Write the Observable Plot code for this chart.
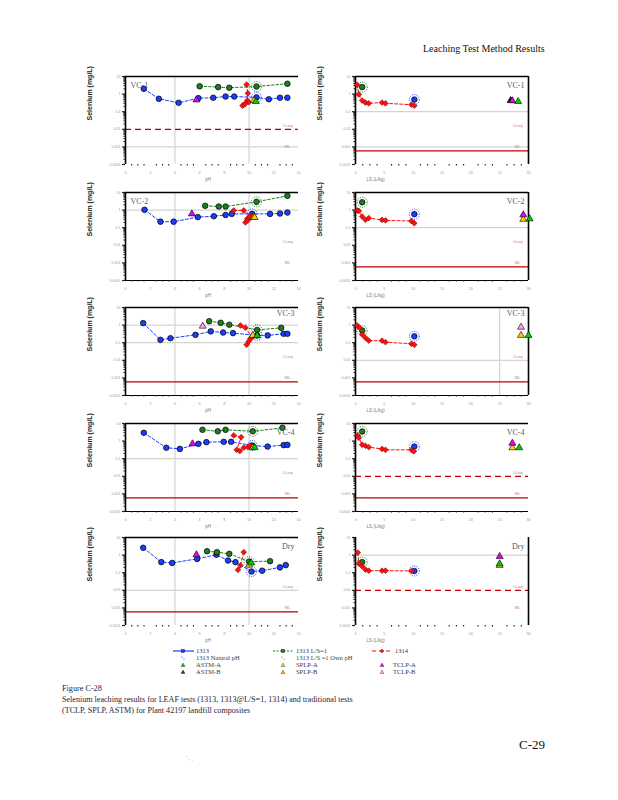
<!DOCTYPE html>
<html><head><meta charset="utf-8">
<script src="https://cdn.jsdelivr.net/npm/d3@7"></script>
<script src="https://cdn.jsdelivr.net/npm/@observablehq/plot@0.6"></script>
<style>
body{margin:0;background:#fff;}
#page{position:relative;width:618px;height:800px;background:#fff;overflow:hidden;font-family:"Liberation Serif",serif;color:#222;}
.abs{position:absolute;white-space:nowrap;}
.pl{position:absolute;}
</style></head><body><div id="page"></div>
<script>
// ---------- data (Se, mg/L) ----------
const panelNames = ["VC-1", "VC-2", "VC-3", "VC-4", "Dry"];
const phTicks = [0, 2, 4, 6, 8, 10, 12, 14];
const lsTicks = [0, 5, 10, 15, 20, 25, 30];
const yDecades = [1e-4, 1e-3, 1e-2, 0.1, 1, 10];

// pH panels: [pH, Se]
const VC1_1313 = [[1.48,2.0],[2.7,0.54],[4.3,0.32],[5.9,0.59],[7.1,0.62],[8.1,0.73],[8.8,0.73],[10.6,0.65],[11.6,0.51],[12.5,0.62],[13.1,0.62]];
const VC1_LS1 = [[6.0,2.8],[7.5,2.5],[8.4,2.3],[10.6,2.7],[13.1,3.9]];
const VC1_1314 = [[9.8,3.5],[9.9,1.1],[9.85,0.43],[9.57,0.25],[9.47,0.22],[9.7,0.28],[9.98,0.35]];
const VC1_nat = [[10.6,0.65]];
const VC1_own = [[10.6,2.7]];
const VC1_trad = [[5.74,0.47,"TCLP-A"],[10.4,0.43,"SPLP-A"],[10.55,0.38,"ASTM-A"]];

const VC2_1313 = [[1.54,1.04],[2.83,0.22],[3.9,0.22],[5.85,0.40],[7.15,0.45],[8.1,0.53],[8.6,0.61],[10.25,0.61],[11.7,0.61],[12.5,0.64],[13.1,0.73]];
const VC2_LS1 = [[6.45,1.75],[7.55,1.6],[8.1,1.6],[10.6,2.95],[13.1,6.5]];
const VC2_1314 = [[8.76,0.95],[9.57,0.95],[10.1,0.49],[9.85,0.32],[9.7,0.2],[9.9,0.26],[10.06,0.40]];
const VC2_nat = [[10.25,0.61]];
const VC2_own = [[10.6,2.95]];
const VC2_trad = [[5.37,0.61,"TCLP-A"],[10.35,0.40,"SPLP-B"],[10.45,0.38,"SPLP-A"]];

const VC3_1313 = [[1.43,1.3],[2.83,0.145],[3.64,0.18],[5.66,0.28],[6.9,0.44],[7.9,0.38],[8.7,0.35],[10.65,0.26],[11.5,0.26],[12.8,0.32],[13.1,0.32]];
const VC3_LS1 = [[6.77,1.66],[7.7,1.35],[8.4,1.05],[10.65,0.53],[12.6,0.7]];
const VC3_1314 = [[9.3,0.95],[9.7,0.71],[10.25,0.2],[10.1,0.17],[9.98,0.12],[9.8,0.076]];
const VC3_nat = [[10.65,0.26]];
const VC3_own = [[10.65,0.53]];
const VC3_trad = [[6.25,0.87,"TCLP-B"],[10.3,0.26,"SPLP-A"],[10.65,0.25,"ASTM-A"]];

const VC4_1313 = [[1.48,2.96],[3.3,0.42],[4.4,0.36],[5.9,0.7],[6.55,0.87],[7.95,0.91],[8.55,0.91],[10.25,0.56],[11.5,0.49],[12.8,0.59],[13.1,0.61]];
const VC4_LS1 = [[6.23,4.4],[7.47,3.6],[8.1,4.4],[10.3,3.6],[12.7,5.7]];
const VC4_1314 = [[8.76,2.1],[9.36,1.66],[9.0,0.32],[9.25,0.27],[9.57,0.42],[9.9,0.45],[10.06,0.56]];
const VC4_nat = [[10.25,0.56]];
const VC4_own = [[10.3,3.6]];
const VC4_trad = [[5.42,0.7,"TCLP-A"],[10.3,0.42,"SPLP-A"],[10.45,0.44,"ASTM-A"]];

const Dry_1313 = [[1.43,2.6],[2.9,0.4],[3.78,0.36],[5.8,0.61],[7.36,1.05],[8.3,0.49],[8.9,0.4],[10.2,0.117],[11.06,0.13],[12.5,0.2],[12.97,0.27]];
const Dry_LS1 = [[6.6,1.66],[7.4,1.46],[8.4,1.18],[10.0,0.43],[11.7,0.45]];
const Dry_1314 = [[9.57,1.46],[9.3,0.26],[9.1,0.145]];
const Dry_nat = [[10.2,0.117]];
const Dry_own = [[10.0,0.43]];
const Dry_trad = [[5.74,1.05,"TCLP-A"],[10.0,0.27,"SPLP-A"],[10.17,0.36,"ASTM-A"]];

// L/S panels: [L/S (L/kg), Se]
const VC1_ls1314 = [[0.29,3.4],[0.58,0.95],[1.16,0.43],[1.73,0.33],[2.3,0.30],[4.6,0.33],[5.2,0.30],[9.7,0.25],[10.2,0.22]];
const VC1_ls1313 = [[10.2,0.49]];
const VC1_lsLS1 = [[1.16,2.5]];
const VC1_lsTrad = [[26.9,0.43,"ASTM-B"],[27.2,0.42,"TCLP-A"],[28.2,0.38,"ASTM-A"]];

const VC2_ls1314 = [[0.3,0.95],[0.58,0.9],[1.16,0.43],[1.73,0.28],[2.3,0.35],[4.6,0.28],[5.2,0.26],[9.7,0.24],[10.2,0.18]];
const VC2_ls1313 = [[10.2,0.59]];
const VC2_lsLS1 = [[1.16,2.8]];
const VC2_lsTrad = [[29.1,0.30,"SPLP-A"],[29.1,0.54,"TCLP-A"],[30.2,0.32,"ASTM-A"]];

const VC3_ls1314 = [[0.29,0.95],[0.7,0.71],[1.16,0.29],[1.73,0.19],[2.3,0.13],[4.6,0.13],[5.2,0.107],[9.7,0.087],[10.2,0.076]];
const VC3_ls1313 = [[10.2,0.23]];
const VC3_lsLS1 = [[1.16,0.49]];
const VC3_lsTrad = [[28.7,0.76,"TCLP-B"],[28.7,0.26,"SPLP-A"],[30.0,0.26,"ASTM-A"]];

const VC4_ls1314 = [[0.4,2.1],[0.58,1.55],[1.16,0.62],[1.73,0.54],[2.3,0.45],[4.6,0.36],[5.2,0.32],[9.7,0.32],[10.1,0.26]];
const VC4_ls1313 = [[10.2,0.49]];
const VC4_lsLS1 = [[1.16,3.5]];
const VC4_lsTrad = [[27.2,0.42,"SPLP-A"],[27.2,0.76,"TCLP-A"],[28.4,0.42,"ASTM-A"]];

const Dry_ls1314 = [[0.4,1.4],[0.58,0.33],[1.16,0.23],[1.73,0.15],[2.3,0.13],[4.6,0.13],[5.2,0.13],[9.7,0.126]];
const Dry_ls1313 = [[10.2,0.126]];
const Dry_lsLS1 = [[1.16,0.4]];
const Dry_lsTrad = [[25.0,0.26,"SPLP-A"],[25.0,0.83,"TCLP-A"],[25.0,0.32,"ASTM-A"]];

// reference lines per panel (Se, mg/L)
const leftGrayH = [[1e-3],[1],[1,0.1],[0.1],[0.01]];
const rightGrayH = [[0.1,1e-3],[0.1],[0.01],[],[1]];
const leftRed = [[[0.01,"dash"]],[],[[6e-4,"solid"]],[[6e-4,"solid"]],[[6e-4,"solid"]]];
const rightRed = [[[6e-4,"solid"]],[[6e-4,"solid"]],[[6e-4,"solid"]],[[0.01,"dash"],[6e-4,"solid"]],[[0.01,"dash"]]];
const leftGrayV = [4, 10];
const rightGrayV = [[],[],[25],[],[]];
const lloqLabelY = 0.016, mlLabelY = 0.001;

// ---------- styles ----------
const tradColor = {"ASTM-A":"#00d000","ASTM-B":"#111111","SPLP-A":"#ffd000","SPLP-B":"#ffb000","TCLP-A":"#ee00ee","TCLP-B":"#ffa0f0"};
const BLUE = "#1c3cff", GREEN = "#1e7d1e", RED = "#ff1010";
const tops = [76, 192, 307, 423, 537];
const FW = 173, FH = 88, ML = 40, MR = 12, MT = 10, MB = 26;
const leftFrameX = 125, rightFrameX = 355;

const leftSets = [
  [VC1_1313,VC1_LS1,VC1_1314,VC1_nat,VC1_own,VC1_trad],
  [VC2_1313,VC2_LS1,VC2_1314,VC2_nat,VC2_own,VC2_trad],
  [VC3_1313,VC3_LS1,VC3_1314,VC3_nat,VC3_own,VC3_trad],
  [VC4_1313,VC4_LS1,VC4_1314,VC4_nat,VC4_own,VC4_trad],
  [Dry_1313,Dry_LS1,Dry_1314,Dry_nat,Dry_own,Dry_trad]];
const rightSets = [
  [VC1_ls1314,VC1_ls1313,VC1_lsLS1,VC1_lsTrad],
  [VC2_ls1314,VC2_ls1313,VC2_lsLS1,VC2_lsTrad],
  [VC3_ls1314,VC3_ls1313,VC3_lsLS1,VC3_lsTrad],
  [VC4_ls1314,VC4_ls1313,VC4_lsLS1,VC4_lsTrad],
  [Dry_ls1314,Dry_ls1313,Dry_lsLS1,Dry_lsTrad]];

const page = document.getElementById("page");
function place(el, left, top){ el.classList.add("pl"); el.style.left = left+"px"; el.style.top = top+"px"; page.appendChild(el); }

const minorY = [];
for (const d of [1e-4,1e-3,1e-2,0.1,1]) for (let k=2;k<=9;k++) minorY.push(d*k);
const fmtY = d => d >= 1 ? String(d) : String(+d.toPrecision(1));

function frameMarks(xDom, opts){
  const [x0,x1] = xDom;
  const m = [
    Plot.ruleX([x0], {stroke:"#000", strokeWidth:1.6}),
    Plot.axisY({ticks: yDecades, tickSize: 3, tickFormat: () => "", label: null, strokeWidth:1.2}),
    Plot.axisY({ticks: minorY, tickSize: 1.6, tickFormat: () => "", label: null, strokeWidth:1}),
    Plot.text(yDecades, {y: d => d, frameAnchor: "left", dx: -5, text: fmtY, textAnchor: "end", fontSize: 3.6, fill: "#9a9a9a"}),
  ];
  if (opts.top) m.push(Plot.ruleY([10], {stroke:"#000", strokeWidth:1.4}));
  if (opts.bottom) m.push(Plot.ruleY([1e-4], {stroke:"#000", strokeWidth:1.2}));
  if (opts.right) m.push(Plot.ruleX([x1], {stroke:"#000", strokeWidth:1.6}));
  return m;
}

function leftPanel(i){
  const [s1313, sLS1, s1314, nat, own, trad] = leftSets[i];
  const minorX = d3.range(0, 14.01, 0.5).filter(v => v % 2 !== 0);
  const labelRight = i >= 2;
  return Plot.plot({
    width: ML+FW+MR, height: MT+FH+MB,
    marginLeft: ML, marginRight: MR, marginTop: MT, marginBottom: MB,
    x: {type:"linear", domain:[0,14], axis:null},
    y: {type:"log", domain:[1e-4,10], axis:null},
    style: {background:"transparent", overflow:"visible", fontFamily:"Liberation Sans"},
    marks: [
      Plot.ruleX(leftGrayV, {stroke:"#d4d4d4", strokeWidth:1.2}),
      Plot.ruleY(leftGrayH[i], {stroke:"#d4d4d4", strokeWidth:1.2}),
      ...leftRed[i].map(([v,t]) => Plot.ruleY([v], {stroke:"#b80000", strokeWidth:1.2, strokeDasharray: t==="dash" ? "6,4" : null})),
      Plot.text(["LLoq"], {y: () => lloqLabelY, frameAnchor:"right", dx:-6, textAnchor:"end", fontSize:4.2, fill:"#e0708a"}),
      Plot.text(["ML"], {y: () => mlLabelY, frameAnchor:"right", dx:-8, textAnchor:"end", fontSize:4.2, fill:"#e0708a"}),
      ...frameMarks([0,14], {top:true, bottom: i>=1 && i<=3, right:false}),
      Plot.axisX({ticks: minorX, tickSize: 1.6, tickFormat: () => "", label: null, strokeWidth:1.1}),
      Plot.text(phTicks, {x: d => d, frameAnchor:"bottom", dy: 9, fontSize: 3.8, fill:"#a0a0a0", text: d => String(d)}),
      Plot.text(["pH"], {frameAnchor:"bottom", dy: 16, dx: -4, fontSize: 4.5, fill:"#777"}),
      Plot.text(["Selenium (mg/L)"], {frameAnchor:"left", rotate:-90, dx:-36, fontSize:7, fontWeight:"bold", fill:"#222", fontFamily:"Liberation Sans"}),
      Plot.line(s1313, {x: d=>d[0], y: d=>d[1], stroke: BLUE, strokeWidth:1, strokeDasharray:"3,2"}),
      Plot.line(sLS1, {x: d=>d[0], y: d=>d[1], stroke: GREEN, strokeWidth:1, strokeDasharray:"2.5,2"}),
      Plot.line(s1314, {x: d=>d[0], y: d=>d[1], stroke: RED, strokeWidth:1, strokeDasharray:"3,2"}),
      Plot.dot(nat, {x: d=>d[0], y: d=>d[1], r: 5, stroke: BLUE, strokeWidth:1, strokeDasharray:"1,1.3", fill:"none"}),
      Plot.dot(own, {x: d=>d[0], y: d=>d[1], r: 5, stroke: GREEN, strokeWidth:1, strokeDasharray:"1,1.3", fill:"none"}),
      Plot.dot(s1313, {x: d=>d[0], y: d=>d[1], r: 2.8, symbol:"circle", fill: BLUE, stroke:"#000", strokeWidth:0.7}),
      Plot.dot(sLS1, {x: d=>d[0], y: d=>d[1], r: 2.8, symbol:"circle", fill: GREEN, stroke:"#000", strokeWidth:0.7}),
      Plot.dot(s1314, {x: d=>d[0], y: d=>d[1], r: 2.6, symbol:"diamond2", fill: RED, stroke:"#700", strokeWidth:0.5}),
      Plot.dot(trad, {x: d=>d[0], y: d=>d[1], r: 2.6, symbol:"triangle", fill: d=>tradColor[d[2]], stroke:"#000", strokeWidth:0.6}),
      Plot.text([panelNames[i]], {frameAnchor: labelRight ? "top-right" : "top-left", dx: labelRight ? -4 : 5, dy: i===2 ? 3 : 6, fontSize: 8, fill:"#4c5c70", fontFamily:"Liberation Serif", textAnchor: labelRight ? "end" : "start"})
    ]
  });
}

function rightPanel(i){
  const [s1314, s1313, sLS1, trad] = rightSets[i];
  const minorX = d3.range(0, 30.01, 1.25).filter(v => v % 5 !== 0);
  return Plot.plot({
    width: ML+FW+MR, height: MT+FH+MB,
    marginLeft: ML, marginRight: MR, marginTop: MT, marginBottom: MB,
    x: {type:"linear", domain:[0,30], axis:null, clamp:false},
    y: {type:"log", domain:[1e-4,10], axis:null},
    style: {background:"transparent", overflow:"visible", fontFamily:"Liberation Sans"},
    marks: [
      Plot.ruleX(rightGrayV[i], {stroke:"#d4d4d4", strokeWidth:1.2}),
      Plot.ruleY(rightGrayH[i], {stroke:"#d4d4d4", strokeWidth:1.2}),
      ...rightRed[i].map(([v,t]) => Plot.ruleY([v], {stroke:"#c00000", strokeWidth:1.2, strokeDasharray: t==="dash" ? "6,4" : null})),
      Plot.text(["LLoq"], {y: () => lloqLabelY, frameAnchor:"right", dx:-6, textAnchor:"end", fontSize:4.2, fill:"#e0708a"}),
      Plot.text(["ML"], {y: () => mlLabelY, frameAnchor:"right", dx:-8, textAnchor:"end", fontSize:4.2, fill:"#e0708a"}),
      ...frameMarks([0,30], {top: i!==4, bottom: i>=1 && i<=3, right: i!==3}),
      Plot.axisX({ticks: minorX, tickSize: 1.6, tickFormat: () => "", label: null, strokeWidth:1.1}),
      Plot.text(lsTicks, {x: d => d, frameAnchor:"bottom", dy: 9, fontSize: 3.8, fill:"#a0a0a0", text: d => String(d)}),
      Plot.text(["LS (L/kg)"], {frameAnchor:"bottom-left", dx: 11, dy: 16, fontSize: 4.5, fill:"#777", textAnchor:"start"}),
      Plot.text(["Selenium (mg/L)"], {frameAnchor:"left", rotate:-90, dx:-36, fontSize:7, fontWeight:"bold", fill:"#222", fontFamily:"Liberation Sans"}),
      Plot.line(s1314, {x: d=>d[0], y: d=>d[1], stroke: RED, strokeWidth:1, strokeDasharray:"3,2"}),
      Plot.dot(s1313, {x: d=>d[0], y: d=>d[1], r: 5, stroke: BLUE, strokeWidth:1, strokeDasharray:"1,1.3", fill:"none"}),
      Plot.dot(sLS1, {x: d=>d[0], y: d=>d[1], r: 5, stroke: GREEN, strokeWidth:1, strokeDasharray:"1,1.3", fill:"none"}),
      Plot.dot(s1313, {x: d=>d[0], y: d=>d[1], r: 2.8, symbol:"circle", fill: BLUE, stroke:"#000", strokeWidth:0.7}),
      Plot.dot(sLS1, {x: d=>d[0], y: d=>d[1], r: 2.8, symbol:"circle", fill: GREEN, stroke:"#000", strokeWidth:0.7}),
      Plot.dot(s1314, {x: d=>d[0], y: d=>d[1], r: 2.6, symbol:"diamond2", fill: RED, stroke:"#700", strokeWidth:0.5}),
      Plot.dot(trad, {x: d=>d[0], y: d=>d[1], r: 2.6, symbol:"triangle", fill: d=>tradColor[d[2]], stroke:"#000", strokeWidth:0.6}),
      Plot.text([panelNames[i]], {frameAnchor:"top-right", dx: -4, dy: i===2 ? 3 : 6, fontSize: 8, fill:"#4c5c70", fontFamily:"Liberation Serif", textAnchor:"end"})
    ]
  });
}

for (let i = 0; i < 5; i++) {
  place(leftPanel(i), leftFrameX - ML, tops[i] - MT);
  place(rightPanel(i), rightFrameX - ML, tops[i] - MT);
}

// ---------- header, legend, caption ----------
function addText(txt, left, top, css){
  const d = document.createElement("div"); d.className = "abs"; d.textContent = txt;
  d.style.left = left+"px"; d.style.top = top+"px"; d.style.cssText += css; page.appendChild(d); return d;
}
addText("Leaching Test Method Results", 423, 43, "font-size:10px;color:#111;");

const legendItems = [
  {label:"1313", x:173, y:651, kind:"line", color:BLUE, dash:"none", sym:"square"},
  {label:"1313 L/S=1", x:273, y:651, kind:"line", color:GREEN, dash:"2,1.5", sym:"square"},
  {label:"1314", x:372, y:651, kind:"line", color:RED, dash:"4,3", sym:"diamond"},
  {label:"1313 Natural pH", x:173, y:658, kind:"dots", color:BLUE},
  {label:"1313  L/S =1 Own pH", x:273, y:658, kind:"dots", color:GREEN},
  {label:"ASTM-A", x:173, y:665, kind:"tri", color:tradColor["ASTM-A"]},
  {label:"SPLP-A", x:273, y:665, kind:"tri", color:tradColor["SPLP-A"]},
  {label:"TCLP-A", x:372, y:665, kind:"tri", color:tradColor["TCLP-A"]},
  {label:"ASTM-B", x:173, y:672, kind:"tri", color:"#333"},
  {label:"SPLP-B", x:273, y:672, kind:"tri", color:tradColor["SPLP-B"]},
  {label:"TCLP-B", x:372, y:672, kind:"tri", color:tradColor["TCLP-B"]}
];
const NS = "http://www.w3.org/2000/svg";
const lg = document.createElementNS(NS, "svg");
lg.setAttribute("width", 618); lg.setAttribute("height", 40);
lg.style.position = "absolute"; lg.style.left = "0px"; lg.style.top = "645px";
for (const it of legendItems) {
  const cy = it.y - 645, cx = it.x + 10;
  let s = "";
  if (it.kind === "line") {
    s += `<line x1="${it.x}" x2="${it.x+21}" y1="${cy}" y2="${cy}" stroke="${it.color}" stroke-width="1.2" ${it.dash!=="none"?`stroke-dasharray="${it.dash}"`:""}/>`;
    if (it.sym === "square") s += `<rect x="${cx-1.5}" y="${cy-1.5}" width="3" height="3" fill="${it.color}" stroke="#000" stroke-width="0.4"/>`;
    else s += `<path d="M${cx},${cy-2}L${cx+2},${cy}L${cx},${cy+2}L${cx-2},${cy}Z" fill="${it.color}" stroke="#000" stroke-width="0.3"/>`;
  } else if (it.kind === "dots") {
    s += `<circle cx="${cx-1}" cy="${cy-1}" r="0.6" fill="${it.color}"/><circle cx="${cx+1}" cy="${cy+1}" r="0.6" fill="${it.color}"/>`;
  } else {
    s += `<path d="M${cx},${cy-2}L${cx+2},${cy+1.5}L${cx-2},${cy+1.5}Z" fill="${it.color}" stroke="#000" stroke-width="0.3"/>`;
  }
  s += `<text x="${it.x + (it.kind==="tri" && it.x===372 ? 21 : 23)}" y="${cy+2.2}" font-size="6.5" font-family="Liberation Serif" fill="#3a3a44">${it.label}</text>`;
  lg.insertAdjacentHTML("beforeend", s);
}
page.appendChild(lg);

addText("Figure C-28", 62, 684, "font-size:8.2px;color:#1c1c3c;");
addText("Selenium leaching results for LEAF tests (1313, 1313@L/S=1, 1314) and traditional tests", 62, 695, "font-size:8.1px;color:#1c1c3c;");
addText("(TCLP, SPLP, ASTM) for Plant 42197 landfill composites", 62, 706, "font-size:8.1px;color:#1c1c3c;");
addText("C-29", 519, 737, "font-size:13px;color:#111;");
addText("ˈ  ᵢ  ˌ", 185, 755, "font-size:6px;color:#555;");
</script></body></html>
